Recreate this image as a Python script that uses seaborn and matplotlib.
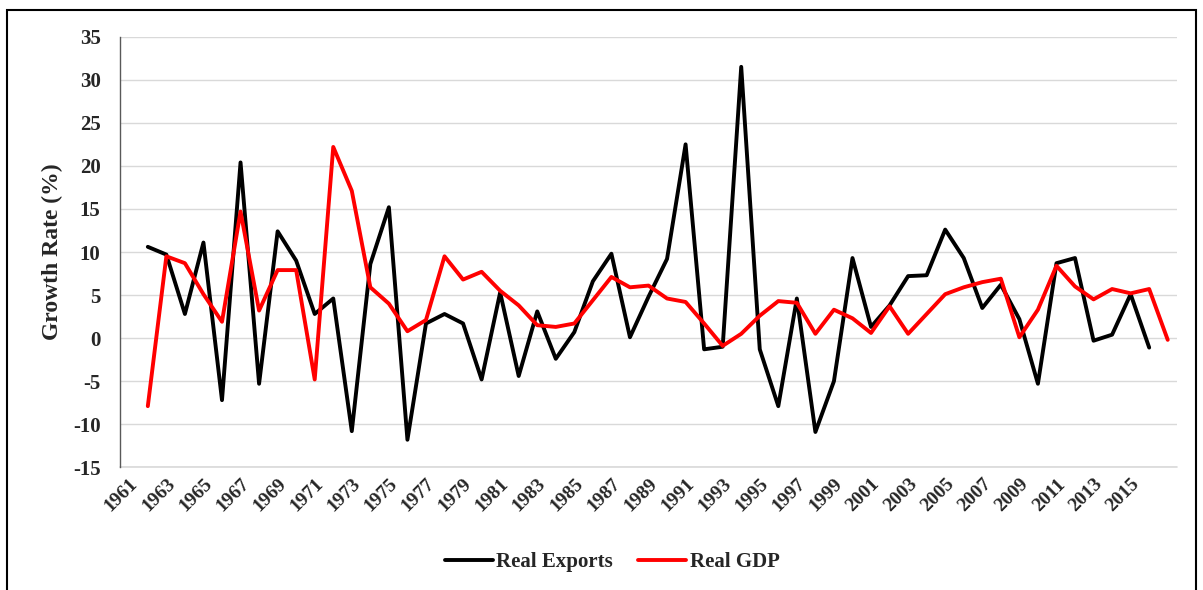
import pandas as pd
import matplotlib.pyplot as plt
import matplotlib.patches as mpatches
import seaborn as sns

# Growth rates (%)
exp_years = list(range(1962, 2017))
real_exports = [10.6, 9.7, 2.8, 11.1, -7.2, 20.4, -5.3, 12.4, 9.0, 2.8,
                4.6, -10.8, 8.6, 15.2, -11.8, 1.7, 2.8, 1.7, -4.8, 5.3,
                -4.4, 3.1, -2.4, 0.7, 6.6, 9.8, 0.1, 4.8, 9.2, 22.5,
                -1.3, -1.0, 31.5, -1.3, -7.9, 4.6, -10.9, -5.0, 9.3, 1.3,
                3.8, 7.2, 7.3, 12.6, 9.3, 3.5, 6.2, 2.2, -5.3, 8.7,
                9.3, -0.3, 0.4, 5.1, -1.1]

gdp_years = list(range(1962, 2018))
real_gdp = [-7.9, 9.5, 8.7, 5.1, 1.9, 14.7, 3.2, 7.9, 7.9, -4.8,
            22.2, 17.1, 5.9, 4.0, 0.8, 2.1, 9.5, 6.8, 7.7, 5.5,
            3.8, 1.5, 1.3, 1.7, 4.4, 7.1, 5.9, 6.1, 4.6, 4.2,
            1.7, -0.9, 0.5, 2.6, 4.3, 4.1, 0.5, 3.3, 2.3, 0.6,
            3.7, 0.5, 2.8, 5.1, 5.9, 6.5, 6.9, 0.1, 3.3, 8.4,
            6.0, 4.5, 5.7, 5.2, 5.7, -0.2]

tick_years = list(range(1961, 2017, 2))
y_ticks = list(range(-15, 40, 5))

df = pd.concat([
    pd.DataFrame({"Year": exp_years, "Growth": real_exports, "Series": "Real Exports"}),
    pd.DataFrame({"Year": gdp_years, "Growth": real_gdp, "Series": "Real GDP"}),
])

sns.set_style("white")
plt.rcParams['font.family'] = ['Liberation Serif', 'DejaVu Serif']
plt.rcParams['font.weight'] = 'bold'

fig = plt.figure(figsize=(12.03, 5.90), dpi=100)
ax = fig.add_axes([120 / 1203, 1 - 467.3 / 590, 1057 / 1203, 430.6 / 590])

sns.lineplot(data=df, x="Year", y="Growth", hue="Series",
             palette={"Real Exports": "black", "Real GDP": "#ff0000"},
             linewidth=2.8, ax=ax)

ax.set_xlim(1960.5, 2017.5)
ax.set_ylim(-15, 35)
ax.set_yticks(y_ticks)
ax.set_xticks(tick_years)
ax.set_xticklabels([str(y) for y in tick_years], rotation=45, ha='right',
                   rotation_mode='anchor', fontsize=14, fontweight='bold')
ax.set_yticklabels([str(v) for v in y_ticks], fontsize=15, fontweight='bold')
ax.tick_params(axis='x', length=0, pad=6)
ax.tick_params(axis='y', length=0, pad=14)

ax.grid(axis='y', color='#d9d9d9', linewidth=1)
ax.axhline(-15, color='#d9d9d9', linewidth=1.2, clip_on=False, zorder=0)
ax.set_axisbelow(True)
for s in ['top', 'right', 'bottom']:
    ax.spines[s].set_visible(False)
ax.spines['left'].set_color('#595959')
ax.spines['left'].set_linewidth(1)

ax.set_xlabel("")
ax.set_ylabel("Growth Rate (%)", fontsize=17, fontweight='bold')
ax.yaxis.set_label_coords(-0.054, 0.5)

handles, labels = ax.get_legend_handles_labels()
ax.get_legend().remove()
fig.legend(handles, labels, loc='center', bbox_to_anchor=(612 / 1203, 1 - 562 / 590),
           ncol=2, frameon=False, handlelength=2.3, handletextpad=0.15,
           columnspacing=1.25, prop={'family': 'Liberation Serif', 'weight': 'bold', 'size': 15})

# outer frame
fig.patches.append(mpatches.Rectangle((7 / 1203, -0.01), 1189 / 1203, 1 - 10 / 590 + 0.01,
                                      transform=fig.transFigure, fill=False,
                                      edgecolor='black', linewidth=1.5))

fig.savefig("out.png", dpi=100)
